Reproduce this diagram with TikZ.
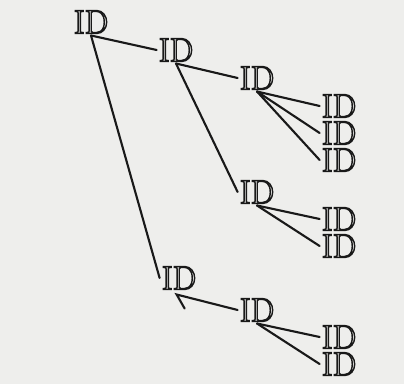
\documentclass[tikz,border=0pt]{standalone}
\definecolor{paper}{RGB}{238,238,236}
\definecolor{ink}{RGB}{25,25,25}
\usepackage{tikz}
\usetikzlibrary{calc}
\newcommand{\gatelabel}{\special{pdf:literal direct 1 Tr 0.8 w}ID\special{pdf:literal direct 0 Tr}}

\begin{document}
\begin{tikzpicture}[x=0.02cm, y=-0.02cm,
    unit/.style={inner sep=1pt, text=ink, font=\fontsize{19}{19}\selectfont},
    link/.style={ink, line width=1.2pt, line cap=round}]
          \fill[paper] (0,0) rectangle (404,384);
          \useasboundingbox (0,0) rectangle (404,384);

          % first level
          \node[unit] (a)  at (91,22)   {\gatelabel};
          \node[unit] (b)  at (176,50)  {\gatelabel};
          \node[unit] (g)  at (179,278) {\gatelabel};

          % second level
          \node[unit] (c)  at (257,78)  {\gatelabel};
          \node[unit] (e)  at (257,192) {\gatelabel};
          \node[unit] (h)  at (257,310) {\gatelabel};

          % leaves
          \node[unit] (c1) at (339,106) {\gatelabel};
          \node[unit] (c2) at (339,133) {\gatelabel};
          \node[unit] (c3) at (339,160) {\gatelabel};
          \node[unit] (e1) at (339,219) {\gatelabel};
          \node[unit] (e2) at (339,246) {\gatelabel};
          \node[unit] (h1) at (339,337) {\gatelabel};
          \node[unit] (h2) at (339,364) {\gatelabel};

          \draw[link] (a.south) -- (b.west);
          \draw[link] (a.south) -- (g.west);
          \draw[link] (b.south) -- (c.west);
          \draw[link] (b.south) -- (e.west);
          \foreach \leaf in {c1,c2,c3} {\draw[link] (c.south) -- (\leaf.west);}
          \foreach \leaf in {e1,e2} {\draw[link] (e.south) -- (\leaf.west);}
          \foreach \leaf in {h1,h2} {\draw[link] (h.south) -- (\leaf.west);}

          \coordinate (gtip) at ($(g.south west)+(17,3)$);
          \coordinate (gtail) at ($(gtip)+(8,14)$);
          \draw[link] (h.west) -- (gtip) -- (gtail);
        \end{tikzpicture}
\end{document}
